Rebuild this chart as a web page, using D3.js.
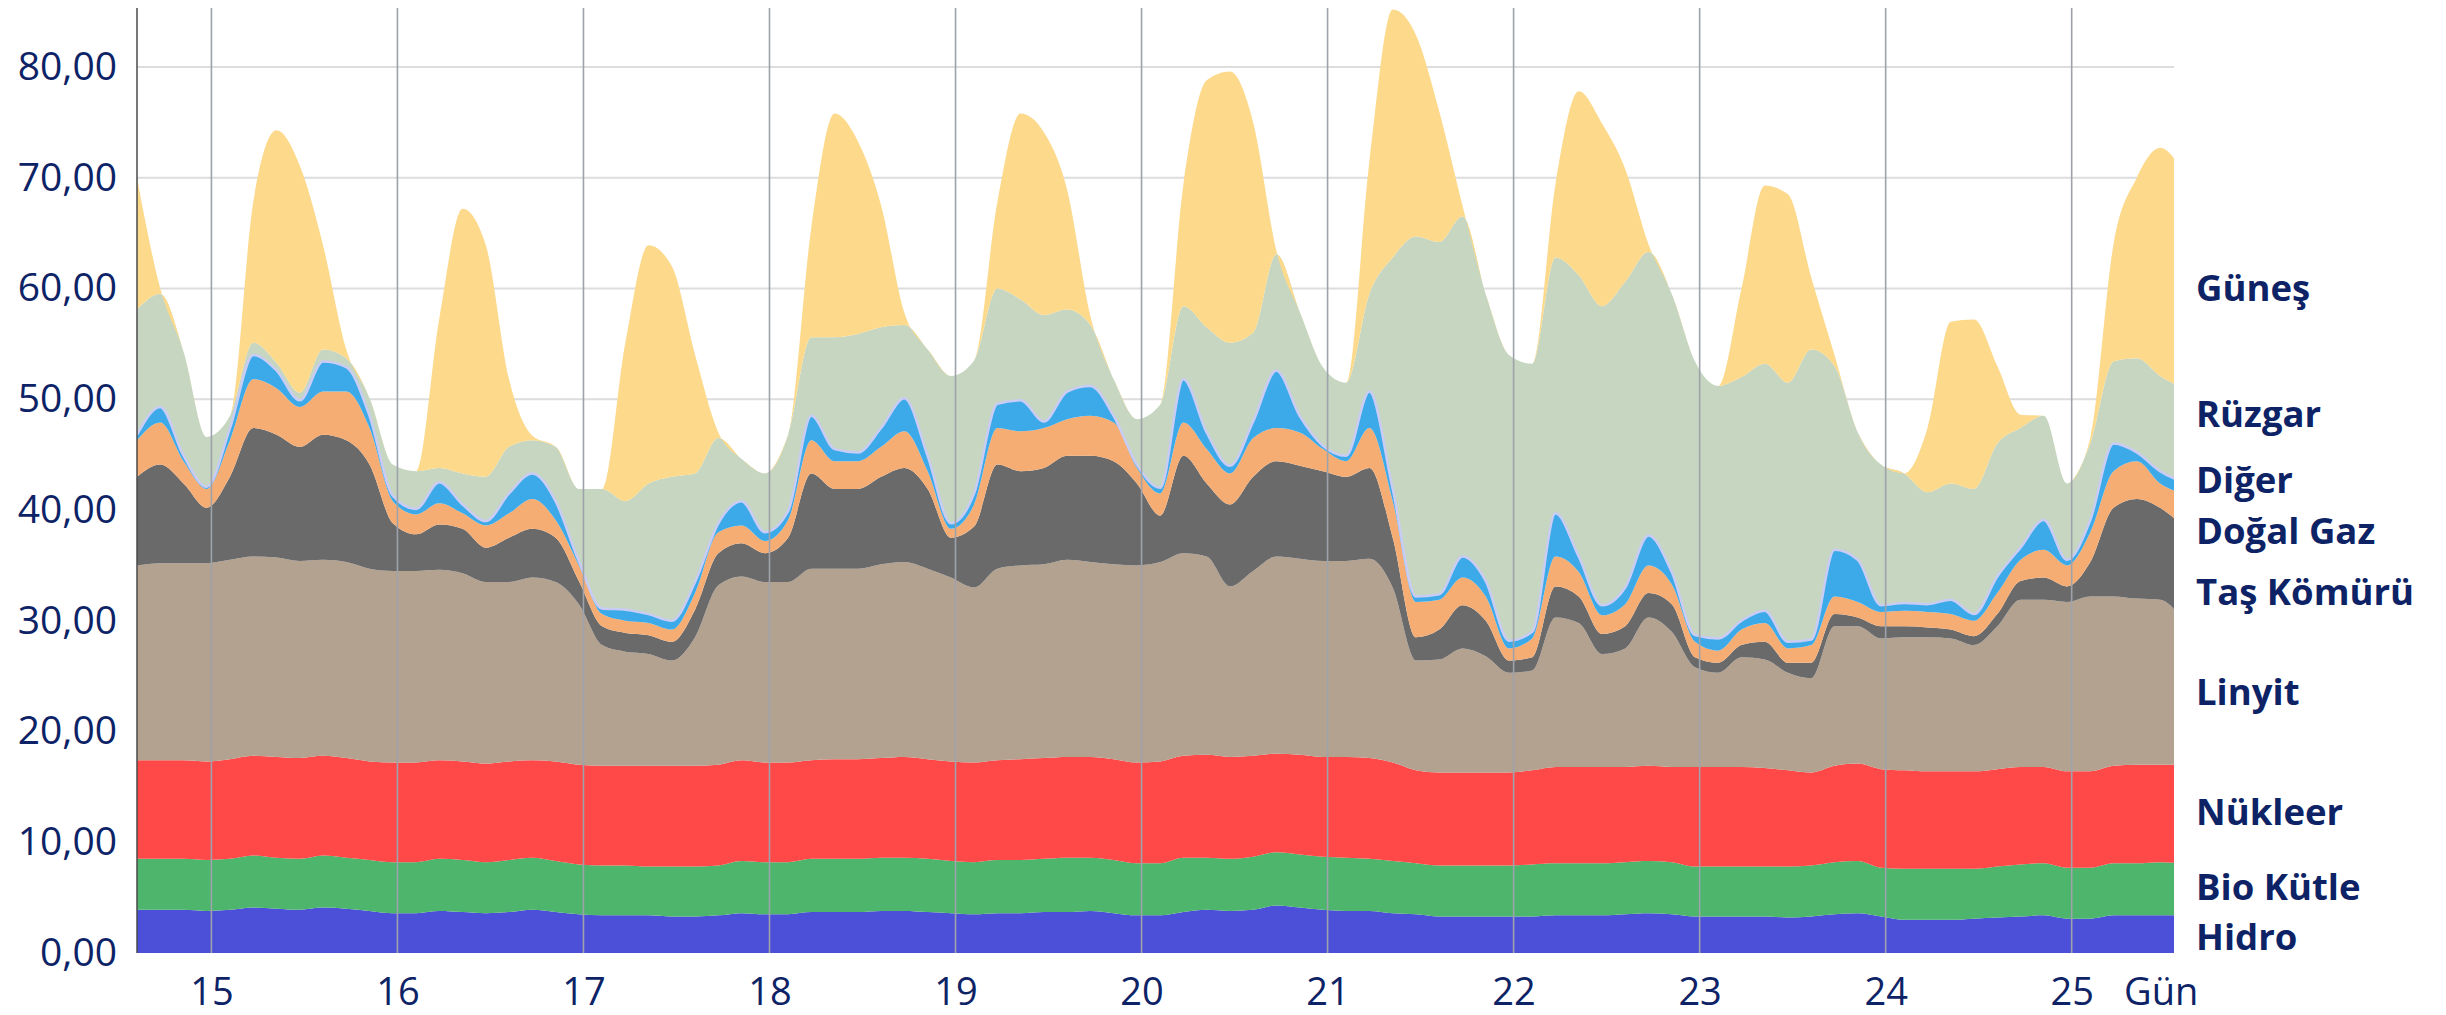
<!DOCTYPE html>
<html><head><meta charset="utf-8">
<script src="https://cdn.jsdelivr.net/npm/d3@7"></script>
<style>body{margin:0;background:#fff}svg{display:block}</style>
</head><body><svg id="c" width="2446" height="1015"></svg>
<script>
// time axis: 3-hourly samples (day of month), starting at day 14.6
const startDay = 14.6, stepDay = 0.125;

// GW values per source, bottom to top
const hidro = [3.9,3.9,3.9,3.8,3.9,4.1,4.0,3.9,4.1,4.0,3.8,3.6,3.6,3.8,3.7,3.6,3.7,3.9,3.7,3.5,3.4,3.4,3.4,3.3,3.3,3.4,3.6,3.5,3.5,3.7,3.7,3.7,3.8,3.8,3.7,3.6,3.5,3.6,3.6,3.7,3.7,3.8,3.6,3.4,3.4,3.7,3.9,3.8,3.9,4.3,4.1,3.9,3.8,3.8,3.6,3.5,3.3,3.3,3.3,3.3,3.3,3.4,3.4,3.4,3.5,3.6,3.5,3.3,3.3,3.3,3.3,3.2,3.3,3.5,3.6,3.3,3.0,3.0,3.0,3.1,3.2,3.3,3.4,3.1,3.1,3.4,3.4,3.4,3.4];
const bioKutle = [4.6,4.6,4.6,4.6,4.6,4.7,4.6,4.6,4.7,4.6,4.6,4.6,4.6,4.7,4.7,4.6,4.7,4.7,4.6,4.5,4.5,4.5,4.4,4.5,4.5,4.5,4.7,4.7,4.7,4.8,4.8,4.8,4.8,4.8,4.8,4.7,4.7,4.8,4.8,4.8,4.9,4.8,4.8,4.7,4.7,4.9,4.7,4.7,4.8,4.8,4.8,4.8,4.8,4.7,4.7,4.6,4.6,4.6,4.6,4.6,4.7,4.7,4.7,4.7,4.7,4.7,4.7,4.5,4.5,4.5,4.5,4.6,4.6,4.7,4.7,4.4,4.6,4.6,4.6,4.5,4.6,4.7,4.7,4.6,4.6,4.7,4.7,4.8,4.7];
const nukleer = [8.9,8.9,8.9,8.9,9.0,9.0,9.1,9.1,9.0,9.0,8.9,9.0,9.0,8.9,8.9,8.9,8.9,8.8,9.0,9.0,9.0,9.0,9.1,9.1,9.1,9.1,9.1,9.0,9.0,8.9,9.0,9.0,9.0,9.1,9.0,9.0,9.0,9.0,9.1,9.1,9.1,9.1,9.1,9.1,9.2,9.2,9.3,9.2,9.1,8.9,9.0,9.0,9.1,9.1,8.9,8.4,8.4,8.4,8.4,8.4,8.5,8.7,8.7,8.7,8.6,8.6,8.6,9.0,9.0,9.0,8.9,8.7,8.4,8.7,8.8,8.9,8.9,8.8,8.8,8.8,8.8,8.8,8.7,8.7,8.7,8.8,8.9,8.8,8.9];
const linyit = [17.6,17.8,17.8,17.9,18.0,18.0,18.0,17.8,17.7,17.7,17.4,17.3,17.3,17.2,17.0,16.4,16.2,16.5,16.2,14.5,10.9,10.3,10.1,9.5,11.6,16.2,16.6,16.3,16.3,17.3,17.2,17.2,17.5,17.6,17.2,16.6,15.8,17.3,17.5,17.5,17.8,17.6,17.6,17.8,18.0,18.3,17.9,15.4,16.7,17.8,17.7,17.7,17.7,18.0,15.8,9.9,10.2,11.2,10.5,9.0,9.0,13.5,13.0,10.2,10.7,13.4,12.2,9.0,8.5,9.9,9.8,8.8,8.5,12.6,12.4,11.8,12.0,12.1,12.0,11.4,12.9,15.1,15.1,15.3,15.8,15.3,15.0,14.9,13.0];
const tasKomuru = [8.0,8.9,7.2,5.0,7.5,11.6,11.1,10.3,11.3,11.0,9.4,4.3,3.3,4.1,4.0,3.1,4.0,4.4,4.0,2.1,1.7,1.7,1.7,1.7,2.5,2.9,3.0,2.6,4.0,8.6,7.2,7.2,7.9,8.5,7.2,3.6,5.5,9.4,8.5,8.7,9.4,9.6,9.3,7.4,4.2,8.8,6.6,7.4,8.5,8.6,8.4,8.1,7.6,8.2,4.5,2.1,2.7,3.9,3.2,1.1,1.2,2.8,2.4,1.8,2.0,2.2,2.5,0.9,0.9,1.1,1.6,0.9,1.4,1.1,0.8,1.1,1.0,0.9,0.8,0.8,1.1,1.7,2.0,1.4,3.1,8.0,9.0,8.3,8.5];
const dogalGaz = [3.3,3.8,2.0,1.7,3.3,4.4,4.2,3.6,3.9,4.4,3.3,2.0,1.8,1.9,1.4,2.0,2.2,2.7,1.6,1.4,1.1,1.1,1.1,1.1,1.5,1.9,1.6,1.1,1.6,3.0,2.5,2.5,2.7,3.3,1.6,0.8,2.0,3.3,3.6,3.6,3.3,3.6,3.5,1.4,2.0,3.0,3.1,2.8,3.5,3.0,3.0,2.0,1.4,3.6,3.3,3.2,2.7,2.5,2.2,1.1,1.7,2.7,2.2,1.7,2.0,2.5,1.8,1.4,1.1,1.4,1.7,1.3,1.6,1.6,1.4,1.3,1.4,1.4,1.4,1.4,1.9,1.9,2.5,1.9,2.7,3.3,3.4,2.2,3.0];
const diger = [0.5,1.4,0.5,0.2,1.1,2.2,1.6,0.6,2.7,2.2,1.1,0.5,0.5,1.9,0.8,0.4,1.8,2.3,1.7,0.4,0.5,1.0,0.8,0.8,1.0,0.8,2.2,0.8,0.8,2.2,1.1,0.8,1.7,3.0,1.4,0.5,1.0,2.2,2.8,0.6,2.5,2.7,0.6,0.3,0.5,3.9,1.5,0.7,1.5,5.2,1.5,0.3,0.5,3.3,1.1,0.5,0.5,1.9,1.4,0.7,0.6,3.9,1.4,0.9,1.5,2.7,1.1,0.6,1.1,0.8,1.1,0.6,0.5,4.2,3.8,0.6,0.7,0.7,1.3,0.6,1.5,1.1,2.7,0.5,1.1,2.5,0.8,1.1,1.0];
const ruzgar = [11.3,10.2,9.4,4.5,1.1,1.1,0.7,0.7,1.1,0.8,1.6,2.8,3.4,1.3,2.8,4.0,4.2,3.0,4.9,6.5,10.8,9.8,11.8,13.0,9.8,7.7,3.8,5.3,6.9,7.1,10.1,10.7,9.1,6.6,9.6,13.3,12.0,10.4,9.1,9.6,7.4,5.5,3.3,4.1,7.5,6.6,9.5,11.1,8.0,10.5,9.4,7.1,6.6,8.8,20.9,32.5,31.8,30.7,25.9,25.8,24.2,23.1,25.4,27.0,27.6,25.6,25.1,24.7,22.8,22.0,22.3,23.4,26.2,16.6,11.5,12.7,11.7,10.1,10.5,11.3,12.0,10.8,9.4,6.9,6.9,7.4,8.5,8.6,8.5];
const gunes = [11.9,0.5,0,0,0,12.7,21.0,20.5,9.4,0.8,0,0,0,13.5,23.9,20.9,6.1,0.4,0,0,0,14.3,21.5,19.0,10.7,0.5,0,0,0,9.9,20.2,17.4,11.0,1.1,0,0,0,7.8,16.8,16.5,10.8,0.8,0,0,0,11.0,22.3,24.5,19.0,0.3,0,0,0,12.0,22.4,18.2,11.8,1.0,0,0,0,6.6,16.6,16.5,10.2,0.7,0,0,0,8.0,16.1,17.0,6.5,1.0,0,0,0,5.8,14.6,15.3,7.0,1.2,0,0,0.5,10.6,16.3,20.6,19.5];

const seriesNames = ["Hidro","Bio Kütle","Nükleer","Linyit","Taş Kömürü","Doğal Gaz","Diğer","Rüzgar","Güneş"];
const dayTicks = [15,16,17,18,19,20,21,22,23,24,25];
const yTicks = [0,10,20,30,40,50,60,70,80];
const xUnitLabel = "Gün";

(function () {
const seriesValues = [hidro,bioKutle,nukleer,linyit,tasKomuru,dogalGaz,diger,ruzgar,gunes];
const colors = {"Hidro":"#4c4fd8","Bio Kütle":"#4db56c","Nükleer":"#ff4848","Linyit":"#b4a291",
  "Taş Kömürü":"#6a6a6a","Doğal Gaz":"#f6ad74","Diğer":"#3caae8","Rüzgar":"#c6d6c0","Güneş":"#fdd98b"};
const legendY = {"Güneş":287,"Rüzgar":413,"Diğer":479,"Doğal Gaz":530,"Taş Kömürü":591,"Linyit":691,"Nükleer":811,"Bio Kütle":886,"Hidro":936};

const rows = d3.range(hidro.length).map(i => {
  const r = {t: startDay + stepDay * i};
  seriesNames.forEach((k, j) => r[k] = seriesValues[j][i]);
  return r;
});

const pLeft = 137, pRight = 2174, pBottom = 953, pTop = 8;
const navy = "#0d2366";
const svg = d3.select("#c");
svg.append("rect").attr("width",2446).attr("height",1015).attr("fill","#fff");

const x = d3.scaleLinear().domain([14.6, 25.55]).range([pLeft, pRight]);
const y = d3.scaleLinear().domain([0, 80]).range([pBottom, 67]);

svg.append("g").selectAll("line").data(yTicks.filter(d => d > 0)).join("line")
  .attr("x1", pLeft).attr("x2", pRight).attr("y1", d => y(d)).attr("y2", d => y(d))
  .attr("stroke", "#dddddd").attr("stroke-width", 2);

svg.append("defs").append("clipPath").attr("id","clip")
  .append("rect").attr("x", pLeft).attr("y", 0).attr("width", pRight - pLeft).attr("height", pBottom);

const layers = d3.stack().keys(seriesNames)(rows);
const curve = d3.curveMonotoneX;
const area = d3.area().curve(curve).x(d => x(d.data.t)).y0(d => y(d[0])).y1(d => y(d[1]));

const g = svg.append("g").attr("clip-path","url(#clip)");
g.selectAll("path.layer").data(layers).join("path").attr("class","layer")
  .attr("fill", d => colors[d.key]).attr("d", area);

const digerLayer = layers.find(l => l.key === "Diğer");
g.append("path").datum(digerLayer)
  .attr("fill","none").attr("stroke","#c9ccf4").attr("stroke-width",2.5)
  .attr("d", d3.line().curve(curve).x(d => x(d.data.t)).y(d => y(d[1])));

svg.append("g").selectAll("line").data(dayTicks).join("line")
  .attr("x1", d => x(d)).attr("x2", d => x(d)).attr("y1", pTop).attr("y2", pBottom)
  .attr("stroke", "#9ea2aa").attr("stroke-width", 1.6);

svg.append("line").attr("x1", pLeft).attr("x2", pLeft).attr("y1", pTop).attr("y2", pBottom)
  .attr("stroke", "#4a4a4a").attr("stroke-width", 1.5);

const fmt = d => d3.format(".2f")(d).replace(".", ",");
const yAxis = svg.append("g").attr("transform", `translate(${pLeft},0)`)
  .call(d3.axisLeft(y).tickValues(yTicks).tickFormat(fmt).tickSize(0).tickPadding(20));
yAxis.select(".domain").remove();
yAxis.selectAll("text").attr("font-family","'Open Sans', sans-serif").attr("font-size",39).attr("fill",navy);

const xAxis = svg.append("g").attr("transform", `translate(0,${pBottom})`)
  .call(d3.axisBottom(x).tickValues(dayTicks).tickFormat(d3.format("d")).tickSize(0).tickPadding(25));
xAxis.select(".domain").remove();
xAxis.selectAll("text").attr("font-family","'Open Sans', sans-serif").attr("font-size",38).attr("fill",navy);

svg.append("text").attr("x", 2124).attr("y", 1005).text(xUnitLabel)
  .attr("font-family","'Open Sans', sans-serif").attr("font-size",38).attr("fill",navy);

svg.append("g").selectAll("text").data(seriesNames).join("text")
  .attr("x", 2196).attr("y", d => legendY[d] + 13.5).text(d => d)
  .attr("font-family","'Open Sans', sans-serif").attr("font-weight",700).attr("font-size",36.5).attr("fill",navy);
})();
</script></body></html>
